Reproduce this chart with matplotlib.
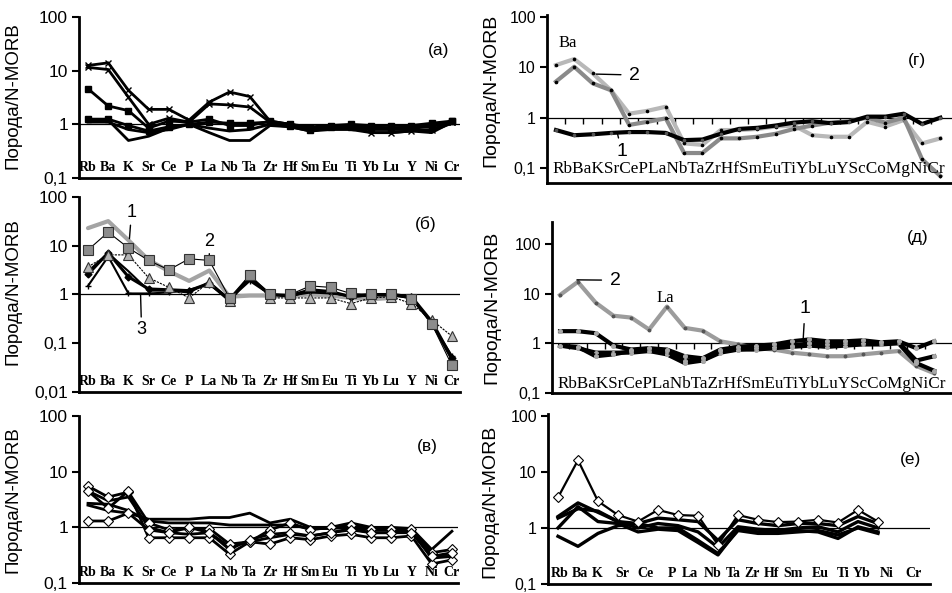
import numpy as np
import matplotlib
matplotlib.use('Agg')
import matplotlib.pyplot as plt
from matplotlib.ticker import NullLocator

nan = np.nan
# ---------------- data ----------------
el19 = ['Rb', 'Ba', 'K', 'Sr', 'Ce', 'P', 'La', 'Nb', 'Ta', 'Zr', 'Hf', 'Sm', 'Eu',
        'Ti', 'Yb', 'Lu', 'Y', 'Ni', 'Cr']
el22 = ['Rb', 'Ba', 'K', 'Sr', 'Ce', 'P', 'La', 'Nb', 'Ta', 'Zr', 'Hf', 'Sm', 'Eu',
        'Ti', 'Yb', 'Lu', 'Y', 'Sc', 'Co', 'Mg', 'Ni', 'Cr']
el22_text = ''.join(el22)
el_e = ['Rb', 'Ba', 'K', 'Sr', 'Ce', 'P', 'La', 'Nb', 'Ta', 'Zr', 'Hf', 'Sm', 'Eu',
        'Ti', 'Yb', 'Ni', 'Cr']
el_e_pos = [0.1, 1.1, 1.95, 3.2, 4.35, 5.7, 6.6, 7.75, 8.75, 9.7, 10.7, 11.75, 13.1,
            14.25, 15.2, 16.45, 17.75]

# (а)
a1 = [12.5, 14, 4.3, 1.9, 1.9, 1.2, 2.6, 4.0, 3.3, 1.15, 1.0, 0.9, 0.95, 0.95, 0.9, 0.85, 0.9, 0.95, 1.1]
a2 = [11.5, 10.5, 3.2, 1.0, 1.3, 1.1, 2.4, 2.3, 2.1, 1.1, 1.0, 0.85, 0.9, 0.9, 0.7, 0.7, 0.75, 0.8, 1.1]
a3 = [4.6, 2.2, 1.8, 0.85, 1.15, 1.1, 1.25, 0.95, 0.95, 1.15, 1.0, 0.85, 0.95, 1.0, 0.95, 0.95, 0.95, 1.05, 1.15]
a4 = [1.25, 1.25, 0.95, 0.75, 0.9, 1.0, 1.1, 1.05, 1.05, 1.1, 0.95, 0.8, 0.9, 0.9, 0.85, 0.85, 0.85, 0.9, 1.15]
a5 = [1.2, 1.2, 0.5, 0.6, 0.85, 1.0, 0.7, 0.5, 0.5, 0.95, 0.9, 0.75, 0.85, 0.85, 0.8, 0.8, 0.8, 0.75, 1.05]
a6 = [1.1, 1.1, 0.8, 0.7, 0.8, 1.0, 0.85, 0.75, 0.8, 1.0, 0.9, 0.75, 0.8, 0.8, 0.7, 0.7, 0.75, 0.7, 1.1]

# (б)
b1 = [23, 32, 13, 5.1, 3.0, 1.9, 3.1, 0.9, 0.95, 0.95, 0.95, 1.0, 0.95, 0.85, 0.8, 0.85, nan, nan, nan]
b2 = [8.2, 19, 9, 5.0, 3.2, 5.4, 5.0, 0.85, 2.5, 1.0, 1.0, 1.5, 1.4, 1.05, 1.0, 1.0, 0.8, 0.25, 0.035]
b3 = [3.7, 6.5, 6.5, 2.2, 1.4, 0.85, 1.8, 0.75, 2.5, 0.85, 0.85, 0.85, 0.85, 0.65, 0.85, 0.9, 0.65, 0.3, 0.14]
b4 = [2.6, 7.2, 2.3, 1.3, 1.25, 1.2, 1.7, 0.75, 2.3, 1.0, 0.95, 1.25, 1.15, 0.9, 1.0, 1.0, 0.9, 0.28, 0.05]
b5 = [1.5, 6.0, 1.05, 1.05, 1.1, 1.25, 1.6, 0.8, 1.9, 1.0, 0.95, 1.1, 1.05, 0.95, 1.0, 1.0, 0.95, 0.25, 0.055]
b6 = [3.0, 7.0, 3.0, 1.2, 1.2, 1.1, 1.8, 0.8, 2.1, 1.0, 0.9, 1.2, 1.1, 0.9, 0.95, 0.95, 0.85, 0.26, 0.045]

# (в)
v1 = [5.5, 3.5, 4.3, 1.2, 0.9, 0.95, 0.95, 0.5, 0.55, 0.9, 1.2, 0.9, 1.0, 1.1, 0.95, 0.95, 0.95, 0.35, 0.4]
v2 = [4.5, 2.2, 4.5, 0.65, 0.65, 0.65, 0.65, 0.33, 0.55, 0.5, 0.65, 0.6, 0.7, 0.75, 0.65, 0.65, 0.7, 0.22, 0.26]
v3 = [1.3, 1.3, 1.8, 0.9, 0.8, 1.0, 0.8, 0.4, 0.6, 0.75, 0.8, 0.7, 0.8, 0.9, 0.8, 0.8, 0.8, 0.3, 0.35]
v4 = [2.5, 2.0, 1.8, 1.4, 1.4, 1.4, 1.5, 1.5, 1.8, 1.2, 1.4, 1.0, 1.0, 1.2, 1.0, 1.0, 0.95, 0.4, 0.85]
v5 = [2.7, 2.6, 2.0, 1.3, 1.2, 1.2, 1.2, 1.1, 1.1, 1.1, 1.1, 0.95, 0.95, 1.0, 0.9, 0.9, 0.9, 0.3, 0.3]
v6 = [4.5, 3.0, 3.5, 1.0, 0.8, 0.75, 0.8, 0.45, 0.55, 0.65, 0.75, 0.7, 0.8, 0.95, 0.8, 0.8, 0.85, 0.28, 0.3]

# (г)
g_light = [11, 14.5, 7.6, 3.5, 1.2, 1.37, 1.65, 0.31, 0.29, 0.57, 0.57, 0.6, 0.67, 0.7, 0.45, 0.42, 0.42, 0.83, 0.67, 0.9, 0.31, 0.39]
g_dark = [5.2, 10.2, 4.8, 3.5, 0.72, 0.83, 0.97, 0.2, 0.2, 0.39, 0.39, 0.42, 0.48, 0.6, 0.7, 0.8, 0.85, 1.0, 0.8, 1.0, 0.15, 0.07]
g_black = [0.57, 0.45, 0.47, 0.5, 0.52, 0.52, 0.5, 0.36, 0.37, 0.48, 0.6, 0.63, 0.7, 0.8, 0.85, 0.78, 0.82, 1.05, 1.05, 1.2, 0.75, 1.0]

# (д)
d_gray = [9.4, 17.3, 6.6, 3.6, 3.3, 1.9, 5.5, 2.05, 1.8, 1.1, 0.95, 0.8, 0.75, 0.65, 0.6, 0.55, 0.55, 0.6, 0.65, 0.7, 0.35, 0.25]
d_k1 = [1.76, 1.76, 1.6, 0.9, 0.75, 0.8, 0.75, 0.55, 0.5, 0.75, 0.85, 0.9, 0.95, 1.1, 1.2, 1.1, 1.1, 1.15, 1.05, 1.1, 0.8, 1.1]
d_k2 = [0.9, 0.85, 0.55, 0.6, 0.7, 0.75, 0.7, 0.45, 0.45, 0.7, 0.75, 0.8, 0.85, 0.9, 1.0, 0.95, 1.0, 1.0, 1.0, 1.05, 0.45, 0.55]
d_k3 = [0.9, 0.8, 0.65, 0.65, 0.65, 0.7, 0.6, 0.4, 0.45, 0.65, 0.75, 0.75, 0.8, 0.85, 0.9, 0.85, 0.9, 0.95, 0.95, 1.0, 0.4, 0.28]

# (е)
e1 = [3.5, 16.2, 3.0, 1.7, 1.3, 2.1, 1.7, 1.65, 0.5, 1.7, 1.4, 1.27, 1.3, 1.4, 1.25, 2.1, 1.3]
e2 = [1.6, 2.8, 1.9, 1.3, 1.2, 1.5, 1.4, 1.3, 0.6, 1.4, 1.2, 1.1, 1.2, 1.2, 1.1, 1.6, 1.2]
e3 = [0.71, 0.47, 0.8, 1.1, 1.2, 1.0, 1.0, 0.6, 0.35, 0.9, 0.8, 0.8, 0.85, 0.9, 0.75, 1.0, 0.8]
e4 = [1.0, 2.4, 1.3, 1.2, 0.85, 0.95, 0.9, 0.55, 0.33, 0.95, 0.85, 0.85, 0.9, 0.85, 0.65, 1.05, 0.85]
e5 = [1.5, 2.2, 2.0, 1.3, 1.0, 1.2, 1.1, 0.85, 0.45, 1.05, 0.95, 0.9, 1.0, 1.05, 0.85, 1.3, 1.0]

# ---------------- figure ----------------
W, H = 952, 593
fig = plt.figure(figsize=(W / 100, H / 100), dpi=100)
SANS = 'Liberation Sans'
SERIF = 'Liberation Serif'
YLAB = 'Порода/N-MORB'


def px_axes(l, r, t, b):
    return fig.add_axes([l / W, 1 - b / H, (r - l) / W, (b - t) / H])


def style(ax, ylim, xlim, yt, ytl, fs):
    ax.set_yscale('log')
    ax.set_ylim(*ylim)
    ax.set_xlim(*xlim)
    for s in ['top', 'right']:
        ax.spines[s].set_visible(False)
    for s in ['left', 'bottom']:
        ax.spines[s].set_linewidth(2.0)
    ax.set_yticks(yt, labels=ytl)
    ax.yaxis.set_minor_locator(NullLocator())
    ax.xaxis.set_minor_locator(NullLocator())
    ax.tick_params(axis='y', length=5, width=1.5, labelsize=fs, pad=3)
    for t in ax.get_yticklabels():
        t.set_fontfamily(SANS)
    ax.set_facecolor('none')


def cat_labels(ax, pos, labels):
    ax.set_xticks(pos, labels=labels)
    for t in ax.get_xticklabels():
        t.set_fontfamily(SERIF)
        t.set_fontweight('bold')
        t.set_fontsize(10)
    ax.tick_params(axis='x', length=0, pad=-12.5)


def one_line_ticks(ax, n):
    lo, hi = ax.get_ylim()
    frac = (0 - np.log10(lo)) / (np.log10(hi) - np.log10(lo))
    sec = ax.secondary_xaxis(frac)
    sec.spines[:].set_linewidth(0.9)
    sec.set_xticks(np.arange(n - 1) + 0.5)
    sec.tick_params(axis='x', direction='out', length=4, width=1, labelbottom=False, labeltop=False)


x19 = np.arange(len(el19))
x22 = np.arange(len(el22))
x17 = np.arange(len(e1))

# ---- (а) ----
ax = px_axes(79, 460, 17, 178)
style(ax, (0.1, 100), (-0.445, 18.4), [0.1, 1, 10, 100], ['0,1', '1', '10', '100'], 12.5)
ax.axhline(1, color='black', lw=0.9, zorder=1)
for d, m, ms in [(a1, 'x', 4), (a2, 'x', 4), (a3, 's', 5), (a4, 's', 5), (a5, None, 0), (a6, None, 0)]:
    ax.plot(x19, d, color='black', lw=2.0, marker=m, ms=ms, mew=1, zorder=3)
cat_labels(ax, x19, el19)
ax.text(0.945, 0.79, '(a)', transform=ax.transAxes, ha='center', va='center',
        fontsize=12.5, family=SANS)
fig.text(13 / W, 1 - 96 / H, YLAB, rotation=90, ha='center', va='center', fontsize=13.5, family=SANS)

# ---- (б) ----
ax = px_axes(79, 460, 197, 392)
style(ax, (0.01, 100), (-0.445, 18.4), [0.01, 0.1, 1, 10, 100],
      ['0,01', '0,1', '1', '10', '100'], 12.5)
ax.axhline(1, color='black', lw=0.9, zorder=1)
ax.plot(x19, b1, color='#a4a4a4', lw=3.0, zorder=2, solid_capstyle='round')
ax.plot(x19, b6, color='black', lw=1.5, zorder=3)
ax.plot(x19, b5, color='black', lw=1.5, marker='+', ms=5, mew=1, zorder=3)
ax.plot(x19, b4, color='black', lw=2.2, marker='D', ms=3.5, zorder=3)
ax.plot(x19, b3, color='black', lw=0.8, ls=(0, (2, 1)), marker='^', ms=6.5, mfc='#b4b4b4',
        mec='#333333', mew=0.8, zorder=4)
ax.plot(x19, b2, color='black', lw=0.8, marker='s', ms=6.5, mfc='#8c8c8c',
        mec='#333333', mew=0.8, zorder=4)
cat_labels(ax, x19, el19)
ax.text(0.91, 0.86, '(б)', transform=ax.transAxes, ha='center', va='center',
        fontsize=12.5, family=SANS)
ap = dict(arrowstyle='-', lw=1, color='black', shrinkA=1, shrinkB=0)
ax.annotate('1', xy=(2.05, 14), xytext=(2.15, 48), ha='center', va='center',
            fontsize=13, family=SANS, arrowprops=ap)
ax.annotate('2', xy=(6.0, 5.3), xytext=(6.0, 12.5), ha='center', va='center',
            fontsize=13, family=SANS, arrowprops=ap)
ax.annotate('3', xy=(2.6, 1.0), xytext=(2.65, 0.19), ha='center', va='center',
            fontsize=13, family=SANS, arrowprops=ap)
fig.text(13 / W, 1 - 292 / H, YLAB, rotation=90, ha='center', va='center', fontsize=13.5, family=SANS)

# ---- (в) ----
ax = px_axes(79, 458, 416, 583)
style(ax, (0.1, 100), (-0.445, 18.3), [0.1, 1, 10, 100], ['0,1', '1', '10', '100'], 12.5)
ax.axhline(1, color='black', lw=0.9, zorder=1)
for d in [v4, v5, v6]:
    ax.plot(x19, d, color='black', lw=2.0, zorder=3)
for d in [v1, v2, v3]:
    ax.plot(x19, d, color='black', lw=2.0, marker='D', ms=5, mfc='white', mec='black',
            mew=0.8, zorder=4)
cat_labels(ax, x19, el19)
ax.text(0.92, 0.82, '(в)', transform=ax.transAxes, ha='center', va='center',
        fontsize=12.5, family=SANS)
fig.text(13 / W, 1 - 500 / H, YLAB, rotation=90, ha='center', va='center', fontsize=13.5, family=SANS)

# ---- (г) ----
ax = px_axes(547, 951, 15, 183)
style(ax, (0.051, 108), (-0.49, 21.58), [0.1, 1, 10, 100], ['0,1', '1', '10', '100'], 11.5)
ax.set_xticks([])
one_line_ticks(ax, len(el22))
ax.plot(x22, g_light, color='#b8b8b8', lw=3, marker='o', ms=1.6, mfc='black', mec='black', zorder=3)
ax.plot(x22, g_dark, color='#8a8a8a', lw=3, marker='o', ms=1.6, mfc='black', mec='black', zorder=3)
ax.plot(x22, g_black, color='black', lw=3, marker='o', ms=1.6, mfc='#555555', mec='#555555', zorder=4)
ax.text(0.5, 0.083, el22_text, transform=ax.transAxes, ha='center', va='center',
        fontsize=12.4, family=SERIF)
ax.text(0.915, 0.73, '(г)', transform=ax.transAxes, ha='center', va='center',
        fontsize=12.5, family=SANS)
ax.text(0.66, 30, 'Ba', ha='center', va='center', fontsize=12, family=SERIF)
ax.annotate('2', xy=(2.2, 7.3), xytext=(4.3, 7.0), ha='center', va='center',
            fontsize=14, family=SANS, arrowprops=dict(arrowstyle='-', lw=1, shrinkA=4, shrinkB=0))
ax.annotate('1', xy=(3.35, 0.5), xytext=(3.6, 0.21), ha='center', va='center',
            fontsize=14, family=SANS, arrowprops=dict(arrowstyle='-', lw=1, shrinkA=2, shrinkB=0))
fig.text(491 / W, 1 - 90 / H, YLAB, rotation=90, ha='center', va='center', fontsize=14, family=SANS)

# ---- (д) ----
ax = px_axes(552, 952, 222, 393)
style(ax, (0.1, 278), (-0.45, 22.0), [0.1, 1, 10, 100], ['0,1', '1', '10', '100'], 11.5)
ax.set_xticks([])
one_line_ticks(ax, len(el22))
ax.plot(x22, d_gray, color='#9c9c9c', lw=3, marker='o', ms=1.8, mfc='#555555', mec='#555555', zorder=3)
for d in [d_k3, d_k2, d_k1]:
    ax.plot(x22, d, color='black', lw=3, marker='o', ms=2.6, mfc='#a8a8a8', mec='#a8a8a8', zorder=4)
ax.text(0.5, 0.053, el22_text, transform=ax.transAxes, ha='center', va='center',
        fontsize=12.3, family=SERIF)
ax.text(0.915, 0.91, '(д)', transform=ax.transAxes, ha='center', va='center',
        fontsize=12.5, family=SANS)
ax.text(5.9, 8.1, 'La', ha='center', va='center', fontsize=12, family=SERIF)
ax.annotate('2', xy=(0.95, 19), xytext=(3.1, 18.7), ha='center', va='center',
            fontsize=14, family=SANS, arrowprops=dict(arrowstyle='-', lw=1, shrinkA=4, shrinkB=0))
ax.annotate('1', xy=(13.65, 1.25), xytext=(13.75, 5.1), ha='center', va='center',
            fontsize=14, family=SANS, arrowprops=dict(arrowstyle='-', lw=1, shrinkA=3, shrinkB=0))
fig.text(492 / W, 1 - 307 / H, YLAB, rotation=90, ha='center', va='center', fontsize=14, family=SANS)

# ---- (е) ----
ax = px_axes(548, 930, 414, 584)
style(ax, (0.1, 108), (-0.5, 18.6), [0.1, 1, 10, 100], ['0,1', '1', '10', '100'], 11.5)
ax.axhline(1, color='black', lw=0.9, zorder=1)
for d in [e3, e4, e5, e2]:
    ax.plot(x17, d, color='black', lw=2.4, zorder=3)
ax.plot(x17, e1, color='black', lw=1.6, marker='D', ms=5.5, mfc='white', mec='black',
        mew=0.8, zorder=4)
cat_labels(ax, el_e_pos, el_e)
ax.text(0.95, 0.73, '(е)', transform=ax.transAxes, ha='center', va='center',
        fontsize=12.5, family=SANS)
fig.text(490 / W, 1 - 501 / H, YLAB, rotation=90, ha='center', va='center', fontsize=14, family=SANS)

fig.savefig('out.png', dpi=100, facecolor='white')
